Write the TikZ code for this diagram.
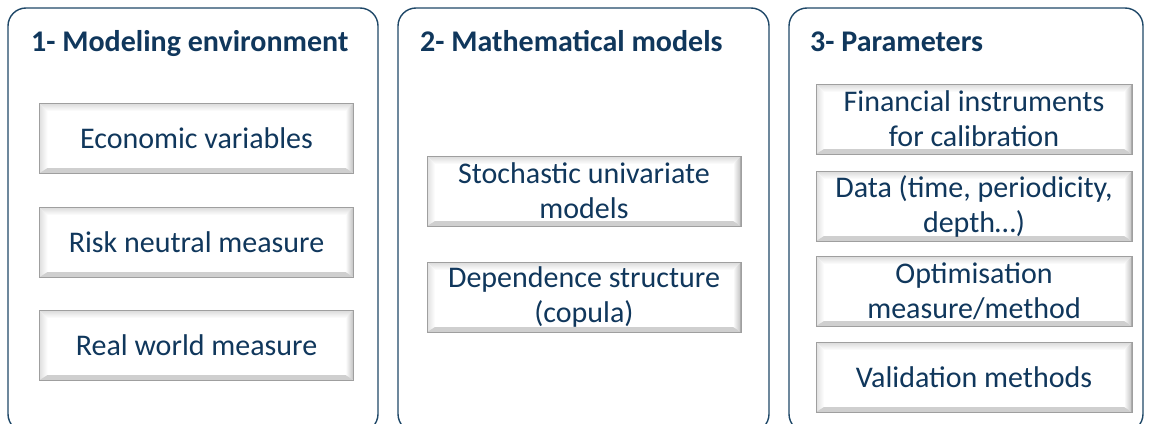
\documentclass[tikz,border=0pt]{standalone}
\usepackage{fontspec}
\setmainfont{Carlito}
\definecolor{navy}{HTML}{10375C}
\definecolor{pborder}{HTML}{1F4868}
\definecolor{bevB}{HTML}{CFCFCF}
\newcommand{\boxfont}{\fontsize{30}{35}\selectfont}
\newcommand{\titlefont}{\fontsize{30}{34}\selectfont\bfseries}
\tikzset{
  panel/.style={draw=pborder, line width=1.4pt, rounded corners=18pt, fill=white},
  ptitle/.style={anchor=base west, inner sep=0, text=navy, font=\titlefont},
  bev/.style={minimum width=#1, minimum height=70pt, inner sep=0pt, align=center,
    text=navy, font=\boxfont, fill=white, draw=gray!75, line width=0.6pt,
    path picture={
      \coordinate (bnw) at (path picture bounding box.north west);
      \coordinate (bne) at (path picture bounding box.north east);
      \coordinate (bsw) at (path picture bounding box.south west);
      \coordinate (bse) at (path picture bounding box.south east);
      \coordinate (inw) at ([shift={(8pt,-8pt)}]bnw);
      \coordinate (ine) at ([shift={(-8pt,-8pt)}]bne);
      \coordinate (isw) at ([shift={(8pt,5pt)}]bsw);
      \coordinate (ise) at ([shift={(-8pt,5pt)}]bse);
      \shade[top color=gray!30, bottom color=white] (bnw) -- (bne) -- (ine) -- (inw) -- cycle;
      \shade[left color=gray!25, right color=white] (bnw) -- (inw) -- (isw) -- (bsw) -- cycle;
      \shade[left color=white, right color=gray!50] (bne) -- (ine) -- (ise) -- (bse) -- cycle;
      \fill[bevB] (bsw) -- (isw) -- (ise) -- (bse) -- cycle;
      \draw[gray!65, line width=1.6pt] (bne) -- (bse);
    }},
  bev/.default=314pt
}
\begin{document}
\begin{tikzpicture}[x=1pt,y=-1pt]
\useasboundingbox (0,0) rectangle (1151,423);
\clip (0,0) rectangle (1151,423);
% panels
\node[panel, minimum width=370pt, minimum height=424pt] (p1) at (193,220) {};
\node[panel, minimum width=371pt, minimum height=424pt] (p2) at (583.5,220) {};
\node[panel, minimum width=354pt, minimum height=424pt] (p3) at (966,220) {};
% titles
\node[ptitle] (t1) at (31,51) {1- Modeling environment};
\node[ptitle] (t2) at (420,51) {2- Mathematical models};
\node[ptitle] (t3) at (810,51) {3- Parameters};
% panel 1 boxes
\node[bev] (b11) at (196.5,138) {Economic variables};
\node[bev] (b12) at (196.5,242) {Risk neutral measure};
\node[bev] (b13) at (196.5,345) {Real world measure};
% panel 2 boxes
\node[bev] (b21) at (584,191) {Stochastic univariate\\models};
\node[bev] (b22) at (584,297) {Dependence structure\\(copula)};
% panel 3 boxes
\node[bev=316pt] (b31) at (974,119) {Financial instruments\\for calibration};
\node[bev=316pt] (b32) at (974,206) {Data (time, periodicity,\\depth\dots)};
\node[bev=316pt] (b33) at (974,291) {Optimisation\\measure/method};
\node[bev=316pt] (b34) at (974,377) {Validation methods};
\end{tikzpicture}
\end{document}
